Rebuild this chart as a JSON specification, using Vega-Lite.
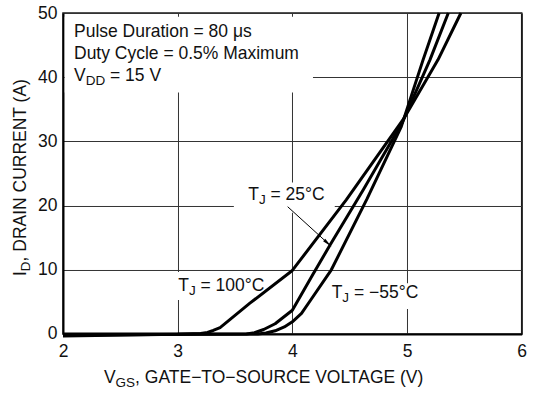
{
  "$schema": "https://vega.github.io/schema/vega-lite/v6.json",
  "width": 458.7,
  "height": 321,
  "autosize": {"type": "none"},
  "padding": {"left": 63, "top": 13, "right": 18, "bottom": 61},
  "background": "white",
  "config": {
    "font": "Liberation Sans",
    "view": {"stroke": "#1a1a1a", "strokeWidth": 1.5},
    "axis": {
      "grid": true,
      "gridColor": "#333333",
      "gridWidth": 1,
      "gridOpacity": 1,
      "domainColor": "#000000",
      "domainWidth": 2,
      "ticks": false,
      "tickSize": 0,
      "labelFont": "Liberation Sans",
      "labelFontSize": 17.5,
      "labelColor": "#111111",
      "labelFlush": false,
      "labelOverlap": false,
      "format": "d",
      "title": null
    }
  },
  "layer": [
    {
      "data": {"values": [
        {"x1": 2.015, "x2": 4.18, "y1": 37.6, "y2": 49.4},
        {"x1": 3.49, "x2": 4.37, "y1": 18.9, "y2": 23.6},
        {"x1": 2.98, "x2": 3.62, "y1": 5.3, "y2": 9.65},
        {"x1": 4.33, "x2": 5.12, "y1": 3.9, "y2": 7.9}
      ]},
      "mark": {"type": "rect", "fill": "white", "stroke": null},
      "encoding": {
        "x": {"field": "x1", "type": "quantitative", "scale": {"domain": [2, 6], "nice": false, "zero": false},
              "axis": {"values": [2, 3, 4, 5, 6], "labelPadding": 9, "format": "d", "title": null}},
        "x2": {"field": "x2"},
        "y": {"field": "y1", "type": "quantitative", "scale": {"domain": [0, 50], "nice": false, "zero": false},
              "axis": {"values": [0, 10, 20, 30, 40, 50], "labelPadding": 6, "format": "d", "title": null}},
        "y2": {"field": "y2"}
      }
    },
    {
      "data": {"values": [
        {"T": "100°C", "V": 2.0, "I": -0.3},
        {"T": "100°C", "V": 3.0, "I": -0.05},
        {"T": "100°C", "V": 3.2, "I": 0.08},
        {"T": "100°C", "V": 3.26, "I": 0.25},
        {"T": "100°C", "V": 3.31, "I": 0.55},
        {"T": "100°C", "V": 3.37, "I": 1.0},
        {"T": "100°C", "V": 3.63, "I": 4.8},
        {"T": "100°C", "V": 4.0, "I": 9.9},
        {"T": "100°C", "V": 4.47, "I": 20.9},
        {"T": "100°C", "V": 4.97, "I": 33.5},
        {"T": "100°C", "V": 5.27, "I": 42.7},
        {"T": "100°C", "V": 5.47, "I": 50},
        {"T": "25°C", "V": 2.0, "I": -0.15},
        {"T": "25°C", "V": 3.6, "I": 0},
        {"T": "25°C", "V": 3.67, "I": 0.2},
        {"T": "25°C", "V": 3.75, "I": 0.7},
        {"T": "25°C", "V": 3.85, "I": 1.6},
        {"T": "25°C", "V": 4.0, "I": 3.7},
        {"T": "25°C", "V": 4.18, "I": 9.3},
        {"T": "25°C", "V": 4.33, "I": 13.9},
        {"T": "25°C", "V": 4.62, "I": 22.5},
        {"T": "25°C", "V": 4.96, "I": 33},
        {"T": "25°C", "V": 5.2, "I": 42.7},
        {"T": "25°C", "V": 5.36, "I": 50},
        {"T": "−55°C", "V": 2.0, "I": 0},
        {"T": "−55°C", "V": 3.7, "I": 0},
        {"T": "−55°C", "V": 3.77, "I": 0.15},
        {"T": "−55°C", "V": 3.85, "I": 0.5},
        {"T": "−55°C", "V": 3.93, "I": 1.1},
        {"T": "−55°C", "V": 4.0, "I": 1.9},
        {"T": "−55°C", "V": 4.08, "I": 3.2},
        {"T": "−55°C", "V": 4.16, "I": 5.3},
        {"T": "−55°C", "V": 4.34, "I": 10},
        {"T": "−55°C", "V": 4.65, "I": 21},
        {"T": "−55°C", "V": 4.95, "I": 32.3},
        {"T": "−55°C", "V": 5.14, "I": 42.7},
        {"T": "−55°C", "V": 5.28, "I": 50}
      ]},
      "mark": {"type": "line", "color": "#000000", "strokeWidth": 3, "strokeJoin": "round"},
      "encoding": {
        "x": {"field": "V", "type": "quantitative", "axis": {"title": null}},
        "y": {"field": "I", "type": "quantitative", "axis": {"title": null}},
        "detail": {"field": "T"}
      }
    },
    {
      "data": {"values": [{"x1": 3.959, "y1": 19.83, "x2": 4.31, "y2": 14.13}]},
      "mark": {"type": "rule", "color": "#000000", "strokeWidth": 1},
      "encoding": {
        "x": {"field": "x1", "type": "quantitative", "axis": {"title": null}},
        "y": {"field": "y1", "type": "quantitative", "axis": {"title": null}},
        "x2": {"field": "x2"},
        "y2": {"field": "y2"}
      }
    },
    {
      "data": {"values": [{"x": 4.31, "y": 14.13}]},
      "mark": {"type": "point", "shape": "M0,-1L0.32,1L-0.32,1Z", "filled": true, "color": "#000000", "opacity": 1, "size": 100, "angle": 132},
      "encoding": {
        "x": {"field": "x", "type": "quantitative", "axis": {"title": null}},
        "y": {"field": "y", "type": "quantitative", "axis": {"title": null}}
      }
    },
    {
      "data": {"values": [
        {"x": 2.096, "y": 46.2, "t": "Pulse Duration = 80 μs"},
        {"x": 2.096, "y": 42.8, "t": "Duty Cycle = 0.5% Maximum"},
        {"x": 2.096, "y": 39.4, "t": "V"},
        {"x": 2.4102, "y": 39.4, "t": "= 15 V"},
        {"x": 3.615, "y": 20.87, "t": "T"},
        {"x": 3.8095, "y": 20.87, "t": "= 25°C"},
        {"x": 3.005, "y": 6.70, "t": "T"},
        {"x": 3.1995, "y": 6.70, "t": "= 100°C"},
        {"x": 4.343, "y": 5.56, "t": "T"},
        {"x": 4.5375, "y": 5.56, "t": "= −55°C"},
        {"x": 2.357, "y": -7.63, "t": "V"},
        {"x": 2.6288, "y": -7.63, "t": ", GATE−TO−SOURCE VOLTAGE (V)"}
      ]},
      "mark": {"type": "text", "align": "left", "baseline": "alphabetic", "fontSize": 17.5, "color": "#111111", "font": "Liberation Sans"},
      "encoding": {
        "x": {"field": "x", "type": "quantitative", "axis": {"title": null}},
        "y": {"field": "y", "type": "quantitative", "axis": {"title": null}},
        "text": {"field": "t"}
      }
    },
    {
      "data": {"values": [
        {"x": 2.1978, "y": 39.4, "t": "DD"},
        {"x": 3.7082, "y": 20.87, "t": "J"},
        {"x": 3.0982, "y": 6.70, "t": "J"},
        {"x": 4.4362, "y": 5.56, "t": "J"},
        {"x": 2.4588, "y": -7.63, "t": "GS"}
      ]},
      "mark": {"type": "text", "align": "left", "baseline": "alphabetic", "fontSize": 13.5, "dy": 4, "color": "#111111", "font": "Liberation Sans"},
      "encoding": {
        "x": {"field": "x", "type": "quantitative", "axis": {"title": null}},
        "y": {"field": "y", "type": "quantitative", "axis": {"title": null}},
        "text": {"field": "t"}
      }
    },
    {
      "data": {"values": [
        {"x": 1.678, "y": 9.03, "t": "I"},
        {"x": 1.678, "y": 11.306, "t": ", DRAIN CURRENT (A)"}
      ]},
      "mark": {"type": "text", "align": "left", "baseline": "alphabetic", "fontSize": 17.5, "angle": 270, "color": "#111111", "font": "Liberation Sans"},
      "encoding": {
        "x": {"field": "x", "type": "quantitative", "axis": {"title": null}},
        "y": {"field": "y", "type": "quantitative", "axis": {"title": null}},
        "text": {"field": "t"}
      }
    },
    {
      "data": {"values": [
        {"x": 1.678, "y": 9.788, "t": "D"}
      ]},
      "mark": {"type": "text", "align": "left", "baseline": "alphabetic", "fontSize": 13.5, "angle": 270, "dy": 4, "color": "#111111", "font": "Liberation Sans"},
      "encoding": {
        "x": {"field": "x", "type": "quantitative", "axis": {"title": null}},
        "y": {"field": "y", "type": "quantitative", "axis": {"title": null}},
        "text": {"field": "t"}
      }
    }
  ]
}
